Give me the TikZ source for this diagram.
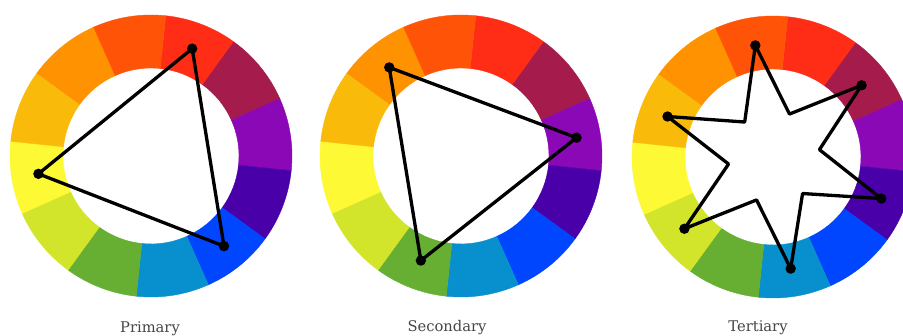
\documentclass[tikz,border=0pt]{standalone}
\usepackage{fontspec}
\newfontfamily\labfont{DejaVu Serif}
\definecolor{cRed}{HTML}{FF2D16}
\definecolor{cCrimson}{HTML}{A51B4B}
\definecolor{cPurple}{HTML}{8A08B6}
\definecolor{cIndigo}{HTML}{4A00A8}
\definecolor{cBlue}{HTML}{0046FF}
\definecolor{cTeal}{HTML}{0890CE}
\definecolor{cGreen}{HTML}{66AF33}
\definecolor{cLime}{HTML}{D2E52B}
\definecolor{cYellow}{HTML}{FEF935}
\definecolor{cGold}{HTML}{FABA0A}
\definecolor{cOrange}{HTML}{FF9200}
\definecolor{cOrRed}{HTML}{FF5407}
\definecolor{labgray}{HTML}{454545}
\tikzset{
  link/.style={line width=3.3pt, line join=round, black},
  lab/.style={font=\labfont\fontsize{14.7}{17}\selectfont, text=labgray, anchor=base},
}
\newcommand{\colorwheel}{%
  \foreach \a/\col in {54/cRed,24/cCrimson,-6/cPurple,-36/cIndigo,-66/cBlue,-96/cTeal,-126/cGreen,-156/cLime,-186/cYellow,-216/cGold,-246/cOrange,-276/cOrRed}{%
    \fill[\col, draw=\col, line width=0.4pt] (\a:141) arc[start angle=\a, end angle=\a+30, radius=141]
      -- ({\a+30}:88) arc[start angle=\a+30, end angle=\a, radius=88] -- cycle;
  }%
}
\begin{document}
\begin{tikzpicture}[x=1pt,y=1pt]
\useasboundingbox (0,0) rectangle (903,336);
\clip (0,0) rectangle (903,336);
\fill[white] (0,0) rectangle (903,336);
% Primary
\begin{scope}[shift={(151,180)}]
  \colorwheel
  \coordinate (a1) at (69:115);
  \coordinate (a2) at (189:114);
  \coordinate (a3) at (309:116);
  \draw[link] (a1) -- (a2) -- (a3) -- cycle;
  \foreach \p in {a1,a2,a3} \fill (\p) circle[radius=5.2];
\end{scope}
\node[lab] (t1) at (150,3) {Primary};
% Secondary
\begin{scope}[shift={(461,180)}]
  \colorwheel
  \coordinate (b1) at (129:114);
  \coordinate (b2) at (9:117);
  \coordinate (b3) at (249:112);
  \draw[link] (b1) -- (b2) -- (b3) -- cycle;
  \foreach \p in {b1,b2,b3} \fill (\p) circle[radius=5.2];
\end{scope}
\node[lab] (t2) at (447,4) {Secondary};
% Tertiary
\begin{scope}[shift={(773,179)}]
  \colorwheel
  \coordinate (s1) at (99:113);
  \coordinate (s2) at (69:46);
  \coordinate (s3) at (39:114);
  \coordinate (s4) at (9:47);
  \coordinate (s5) at (-21:116);
  \coordinate (s6) at (-51:47);
  \coordinate (s7) at (-81:113);
  \coordinate (s8) at (-111:46);
  \coordinate (s9) at (-141:114);
  \coordinate (s10) at (-171:45);
  \coordinate (s11) at (159:113);
  \coordinate (s12) at (129:45);
  \draw[link] (s1) -- (s2) -- (s3) -- (s4) -- (s5) -- (s6) -- (s7) -- (s8) -- (s9) -- (s10) -- (s11) -- (s12) -- cycle;
  \foreach \p in {s1,s3,s5,s7,s9,s11} \fill (\p) circle[radius=5.2];
\end{scope}
\node[lab] (t3) at (758,4) {Tertiary};
\end{tikzpicture}
\end{document}
